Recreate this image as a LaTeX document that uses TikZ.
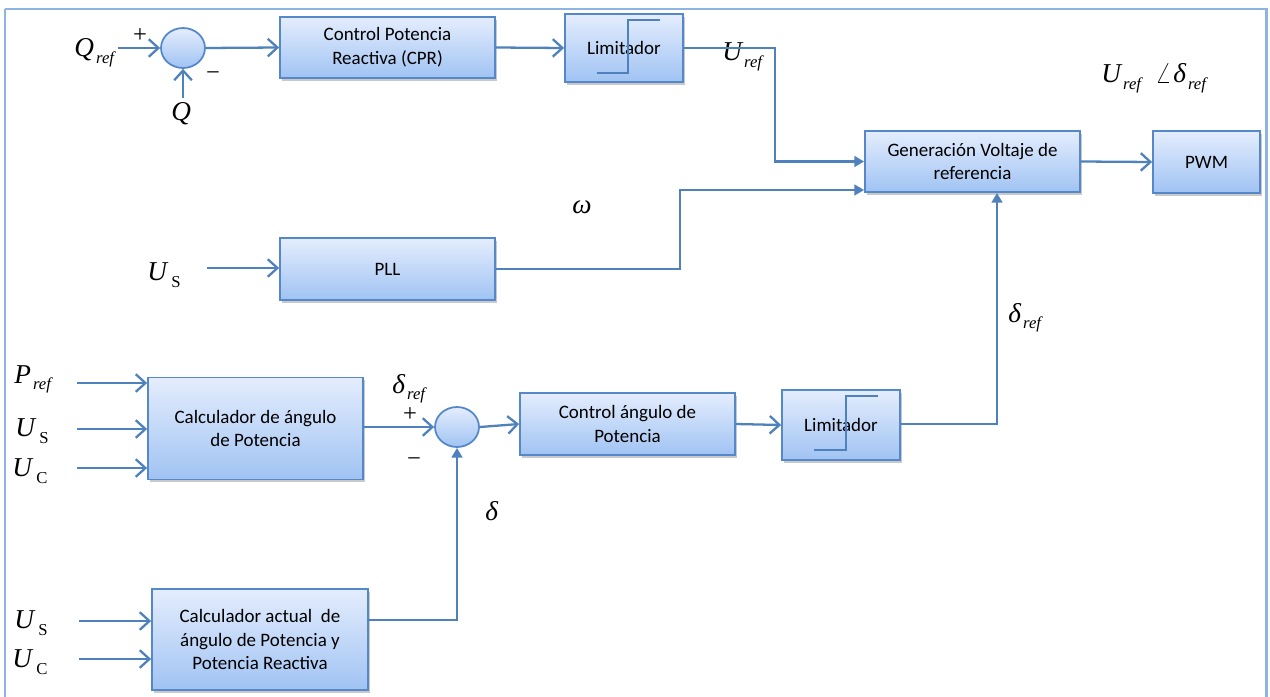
\documentclass[tikz,border=0pt]{standalone}
\usepackage{fontspec}
\setmainfont{Carlito}
\newfontfamily\tms{Liberation Serif}
\usetikzlibrary{arrows.meta,shapes.geometric,shadows,calc}

\newdimen\pxu
\pxu=0.02cm

\definecolor{wire}{RGB}{79,129,189}
\definecolor{blkedge}{RGB}{84,136,201}
\definecolor{blktop}{RGB}{228,237,253}
\definecolor{blkbot}{RGB}{160,195,243}
\definecolor{frameblue}{RGB}{141,180,226}

% italic symbol with italic or upright subscript
\newcommand\symi[2]{{\tms\itshape\fontsize{15.5}{16}\selectfont #1}\kern1.2pt\raisebox{-3.5pt}{\tms\itshape\fontsize{9.5}{10}\selectfont #2}}
\newcommand\symu[2]{{\tms\itshape\fontsize{15.5}{16}\selectfont #1}\kern2.5pt\raisebox{-4.5pt}{\tms\fontsize{9.5}{10}\selectfont #2}}
\newcommand\syml[1]{{\tms\itshape\fontsize{15.5}{16}\selectfont #1}}
\newcommand\sgn[1]{{\tms\fontsize{14}{15}\selectfont #1}}
\newcommand\angsym{{\fontsize{17}{18}\selectfont$\angle$}}

\tikzset{
  blk/.style={draw=blkedge, line width=1pt, top color=blktop, bottom color=blkbot,
    drop shadow={shadow xshift=1.3pt, shadow yshift=-1.5pt, opacity=0.3, fill=black!70},
    align=center, font=\fontsize{10.8}{13.6}\selectfont, inner sep=0pt},
  summer/.style={ellipse, draw=blkedge, line width=1pt, top color=blktop, bottom color=blkbot,
    minimum width=44\pxu, minimum height=40\pxu, inner sep=0pt},
  wirel/.style={draw=wire, line width=1.3pt},
  open/.style={wirel, -{Straight Barb[length=5.5pt, width=10pt, line width=1.3pt]}},
  solid tip/.style={wirel, -{Triangle[length=5.5pt, width=6pt]}},
  steplim/.style={draw=wire, line width=1pt},
  lbl/.style={inner sep=0pt, anchor=base west},
  sg/.style={inner sep=0pt, anchor=center}
}

\begin{document}
\begin{tikzpicture}[x=0.02cm, y=-0.02cm]
\useasboundingbox (0,0) rectangle (1270,696);

% outer frame
\draw[frameblue, line width=1.7pt] (5,9) -- (1266,9) -- (1266,705);
\draw[frameblue, line width=1.7pt] (5,9) -- (5,705);

% blocks
\node[blk, minimum width=215\pxu, minimum height=61\pxu] (cpr) at (387.5,47.5) {Control Potencia\\Reactiva (CPR)};
\node[blk, minimum width=118\pxu, minimum height=68\pxu] (lim1) at (624,48) {Limitador};
\node[blk, minimum width=215\pxu, minimum height=61\pxu] (gen) at (972.5,161.5) {Generación Voltaje de\\referencia};
\node[blk, minimum width=107\pxu, minimum height=62\pxu] (pwm) at (1206.5,162) {PWM};
\node[blk, minimum width=215\pxu, minimum height=62\pxu] (pll) at (387.5,269) {PLL};
\node[blk, minimum width=215\pxu, minimum height=102\pxu] (calc1) at (255.5,428.5) {Calculador de ángulo\\de Potencia};
\node[blk, minimum width=215\pxu, minimum height=62\pxu] (cang) at (627.5,424) {Control ángulo de\\Potencia};
\node[blk, minimum width=118\pxu, minimum height=70\pxu] (lim2) at (841,425) {Limitador};
\node[blk, minimum width=216\pxu, minimum height=101\pxu] (calc2) at (260,639.5) {Calculador actual\ \ de\\ángulo de Potencia y\\Potencia Reactiva};

% summing junctions
\node[summer] (sum1) at (183,48) {};
\node[summer] (sum2) at (457,427) {};

% saturation characteristic drawn over the limiters
\draw[steplim] ([shift={(-27,25)}]lim1.center) -- ([shift={(4,25)}]lim1.center)
  -- ([shift={(4,-28)}]lim1.center) -- ([shift={(36,-28)}]lim1.center);
\draw[steplim] ([shift={(-27,25)}]lim2.center) -- ([shift={(5,25)}]lim2.center)
  -- ([shift={(5,-29)}]lim2.center) -- ([shift={(37,-29)}]lim2.center);

% signal labels
\node[lbl] (qref) at (74,57) {\symi{Q}{ref}};
\node[lbl] (qfb) at (171,120) {\syml{Q}};
\node[sg] (p1) at (140,36) {\sgn{+}};
\node[sg] (m1) at (213,76) {\sgn{−}};
\node[lbl] (uref) at (722,61) {\symi{U}{ref}};
\node[lbl] (uang) at (1101,83) {\symi{U}{ref}\hspace{8pt}\angsym\kern1pt\symi{δ}{ref}};
\node[lbl] (omega) at (572,213) {\syml{ω}};
\node[lbl] (uspll) at (147,280) {\symu{U}{S}};
\node[lbl] (dref2) at (1008,322) {\symi{δ}{ref}};
\node[lbl] (pref) at (14,383) {\symi{P}{ref}};
\node[lbl] (us1) at (15,436) {\symu{U}{S}};
\node[lbl] (uc1) at (12,476) {\symu{U}{C}};
\node[lbl] (us2) at (14,628) {\symu{U}{S}};
\node[lbl] (uc2) at (12,667) {\symu{U}{C}};
\node[lbl] (dref1) at (392,393) {\symi{δ}{ref}};
\node[sg] (p2) at (410,415) {\sgn{+}};
\node[sg] (m2) at (414,462) {\sgn{−}};
\node[lbl] (dlt) at (485,520) {\syml{δ}};

% free ends and bends of the connectors
\coordinate (qin) at (118,48);
\coordinate (qup) at (183,98);
\coordinate (ubend) at (775,48);
\coordinate (wbend) at (680,190);
\coordinate (dbend) at (997,424);
\coordinate (uspin) at (207,268);
\coordinate (prefin) at (77,383);
\coordinate (us1in) at (77,429);
\coordinate (uc1in) at (77,468);
\coordinate (us2in) at (79,621);
\coordinate (uc2in) at (79,659);
\coordinate (c2out) at (367,620);

% reactive power loop
\draw[open] (qin) -- (sum1.west);
\draw[open] (qup) -- (sum1.south);
\draw[open] (sum1.east) -- (cpr.west);
\draw[open] (cpr.east) -- (lim1.west);
\draw[solid tip] (lim1.east) -- (ubend) |- (gen.west);

% phase locked loop
\draw[open] (uspin) -- (uspin -| pll.west);
\draw[solid tip] (pll.east) -| (wbend) -- (wbend -| gen.west);

% power angle loop
\draw[open] (prefin) -- (prefin -| calc1.west);
\draw[open] (us1in) -- (us1in -| calc1.west);
\draw[open] (uc1in) -- (uc1in -| calc1.west);
\draw[open] (calc1.east |- sum2.west) -- (sum2.west);
\draw[open] (sum2.east) -- (cang.west);
\draw[open] (cang.east) -- (lim2.west);
\draw[solid tip] (lim2.east |- dbend) -- (dbend) -- (dbend |- gen.south);

\draw[open] (us2in) -- (us2in -| calc2.west);
\draw[open] (uc2in) -- (uc2in -| calc2.west);
\draw[solid tip] (c2out) -| (sum2.south);

% output stage
\draw[open] (gen.east) -- (pwm.west);
\end{tikzpicture}
\end{document}
